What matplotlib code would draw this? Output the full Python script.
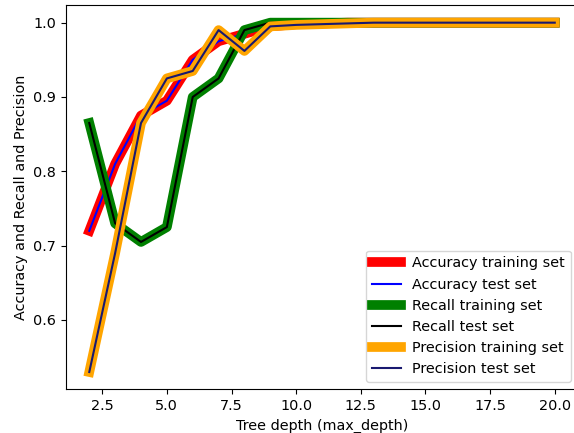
import matplotlib
matplotlib.use("Agg")
import matplotlib.pyplot as plt

plt.rcParams["font.size"] = 10.4

depths = list(range(2, 21))
acc_train = [0.72, 0.81, 0.875, 0.895, 0.95, 0.975, 0.985, 0.995, 0.998, 0.999, 1.0, 1.0, 1.0, 1.0, 1.0, 1.0, 1.0, 1.0, 1.0]
acc_test = acc_train
rec_train = [0.865, 0.73, 0.705, 0.725, 0.9, 0.925, 0.99, 1.0, 1.0, 1.0, 1.0, 1.0, 1.0, 1.0, 1.0, 1.0, 1.0, 1.0, 1.0]
rec_test = rec_train
prec_train = [0.53, 0.69, 0.865, 0.925, 0.935, 0.99, 0.962, 0.995, 0.997, 0.998, 0.999, 1.0, 1.0, 1.0, 1.0, 1.0, 1.0, 1.0, 1.0]
prec_test = prec_train

fig, ax = plt.subplots(figsize=(5.74, 4.33), dpi=100)
ax.plot(depths, acc_train, color="red", lw=7, label="Accuracy training set")
ax.plot(depths, acc_test, color="blue", lw=1.5, label="Accuracy test set")
ax.plot(depths, rec_train, color="green", lw=7, label="Recall training set")
ax.plot(depths, rec_test, color="black", lw=1.5, label="Recall test set")
ax.plot(depths, prec_train, color="orange", lw=7, label="Precision training set")
ax.plot(depths, prec_test, color="midnightblue", lw=1.5, label="Precision test set")
ax.set_xlabel("Tree depth (max_depth)")
ax.set_ylabel("Accuracy and Recall and Precision")
ax.legend(loc="lower right")
fig.subplots_adjust(left=0.115, right=1.007, top=0.988, bottom=0.1005)
fig.savefig("out.png")
